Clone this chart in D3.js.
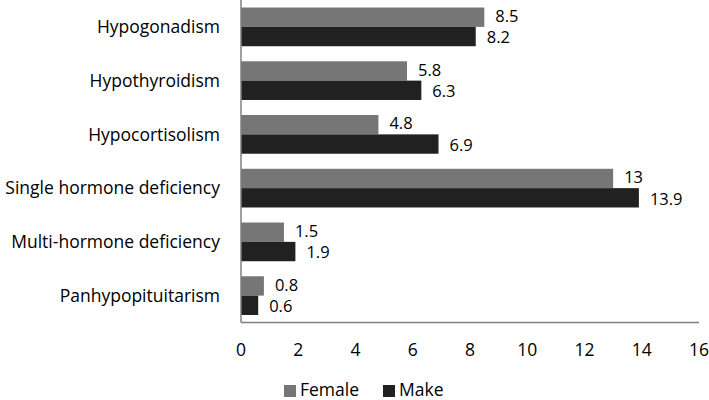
<!DOCTYPE html>
<html>
<head>
<meta charset="utf-8">
<script src="https://cdnjs.cloudflare.com/ajax/libs/d3/7.8.5/d3.min.js"></script>
<style>
  body { margin: 0; background: #fff; }
  text { font-family: "Open Sans", "Liberation Sans", sans-serif; fill: #000; }
</style>
</head>
<body>
<svg id="canvas" width="709" height="400"></svg>
<script>
let categories = ["Hypogonadism", "Hypothyroidism", "Hypocortisolism", "Single hormone deficiency", "Multi-hormone deficiency", "Panhypopituitarism"]
let femaleValues = [8.5, 5.8, 4.8, 13, 1.5, 0.8]
let maleValues = [8.2, 6.3, 6.9, 13.9, 1.9, 0.6]
let seriesNames = ["Female", "Make"]
let seriesColors = ["#767676", "#212121"]
let xTicks = [0, 2, 4, 6, 8, 10, 12, 14, 16]

let canvas = d3.select("#canvas")

let plotLeft = 241, plotRight = 699, plotTop = 0, plotBottom = 322.5
let fs = "17.5px"

let x = d3.scaleLinear().domain([0, 16]).range([plotLeft, plotRight])
let y = d3.scaleBand().domain(categories).range([plotTop, plotBottom]).paddingInner(0.28).paddingOuter(0.14)
let sub = d3.scaleBand().domain(seriesNames).range([0, y.bandwidth()])

let rows = categories.map((c, i) => ({ name: c, values: [femaleValues[i], maleValues[i]] }))

let group = canvas.selectAll("g.row")
    .data(rows)
    .enter()
    .append("g")
    .attr("class", "row")
    .attr("transform", (d) => "translate(0," + y(d.name) + ")")

group.selectAll("rect")
    .data((d) => d.values.map((v, j) => ({ series: seriesNames[j], value: v, color: seriesColors[j] })))
    .enter()
    .append("rect")
    .attr("x", x(0))
    .attr("y", (d) => sub(d.series))
    .attr("width", (d) => x(d.value) - x(0))
    .attr("height", sub.bandwidth())
    .attr("fill", (d) => d.color)

group.selectAll("text.val")
    .data((d) => d.values.map((v, j) => ({ series: seriesNames[j], value: v, idx: j })))
    .enter()
    .append("text")
    .attr("class", "val")
    .attr("x", (d) => x(d.value) + 11)
    .attr("y", (d) => sub(d.series) + sub.bandwidth() / 2 + (d.idx === 0 ? -1 : 1))
    .attr("dy", "0.35em")
    .attr("font-size", "16.5px")
    .text((d) => d.value)

// category labels
canvas.selectAll("text.cat")
    .data(categories)
    .enter()
    .append("text")
    .attr("class", "cat")
    .attr("x", 220)
    .attr("y", (d) => y(d) + y.bandwidth() / 2)
    .attr("dy", "0.35em")
    .attr("text-anchor", "end")
    .attr("font-size", fs)
    .text((d) => d)

// axes lines
canvas.append("line")
    .attr("x1", plotLeft).attr("x2", plotLeft)
    .attr("y1", plotTop).attr("y2", plotBottom)
    .attr("stroke", "#7f7f7f").attr("stroke-width", 1.5)

canvas.append("line")
    .attr("x1", plotLeft).attr("x2", plotRight)
    .attr("y1", plotBottom).attr("y2", plotBottom)
    .attr("stroke", "#7f7f7f").attr("stroke-width", 1.5)

canvas.selectAll("text.tick")
    .data(xTicks)
    .enter()
    .append("text")
    .attr("class", "tick")
    .attr("x", (d) => x(d))
    .attr("y", 350)
    .attr("dy", "0.35em")
    .attr("text-anchor", "middle")
    .attr("font-size", fs)
    .text((d) => d)

// legend
let legendX = [284, 383]
let legend = canvas.selectAll("g.legend")
    .data(seriesNames)
    .enter()
    .append("g")
    .attr("class", "legend")
    .attr("transform", (d, i) => "translate(" + legendX[i] + ",390)")

legend.append("rect")
    .attr("x", 0).attr("y", -5)
    .attr("width", 12).attr("height", 12)
    .attr("fill", (d, i) => seriesColors[i])

legend.append("text")
    .attr("x", 16)
    .attr("dy", "0.35em")
    .attr("font-size", fs)
    .text((d) => d)
</script>
</body>
</html>
